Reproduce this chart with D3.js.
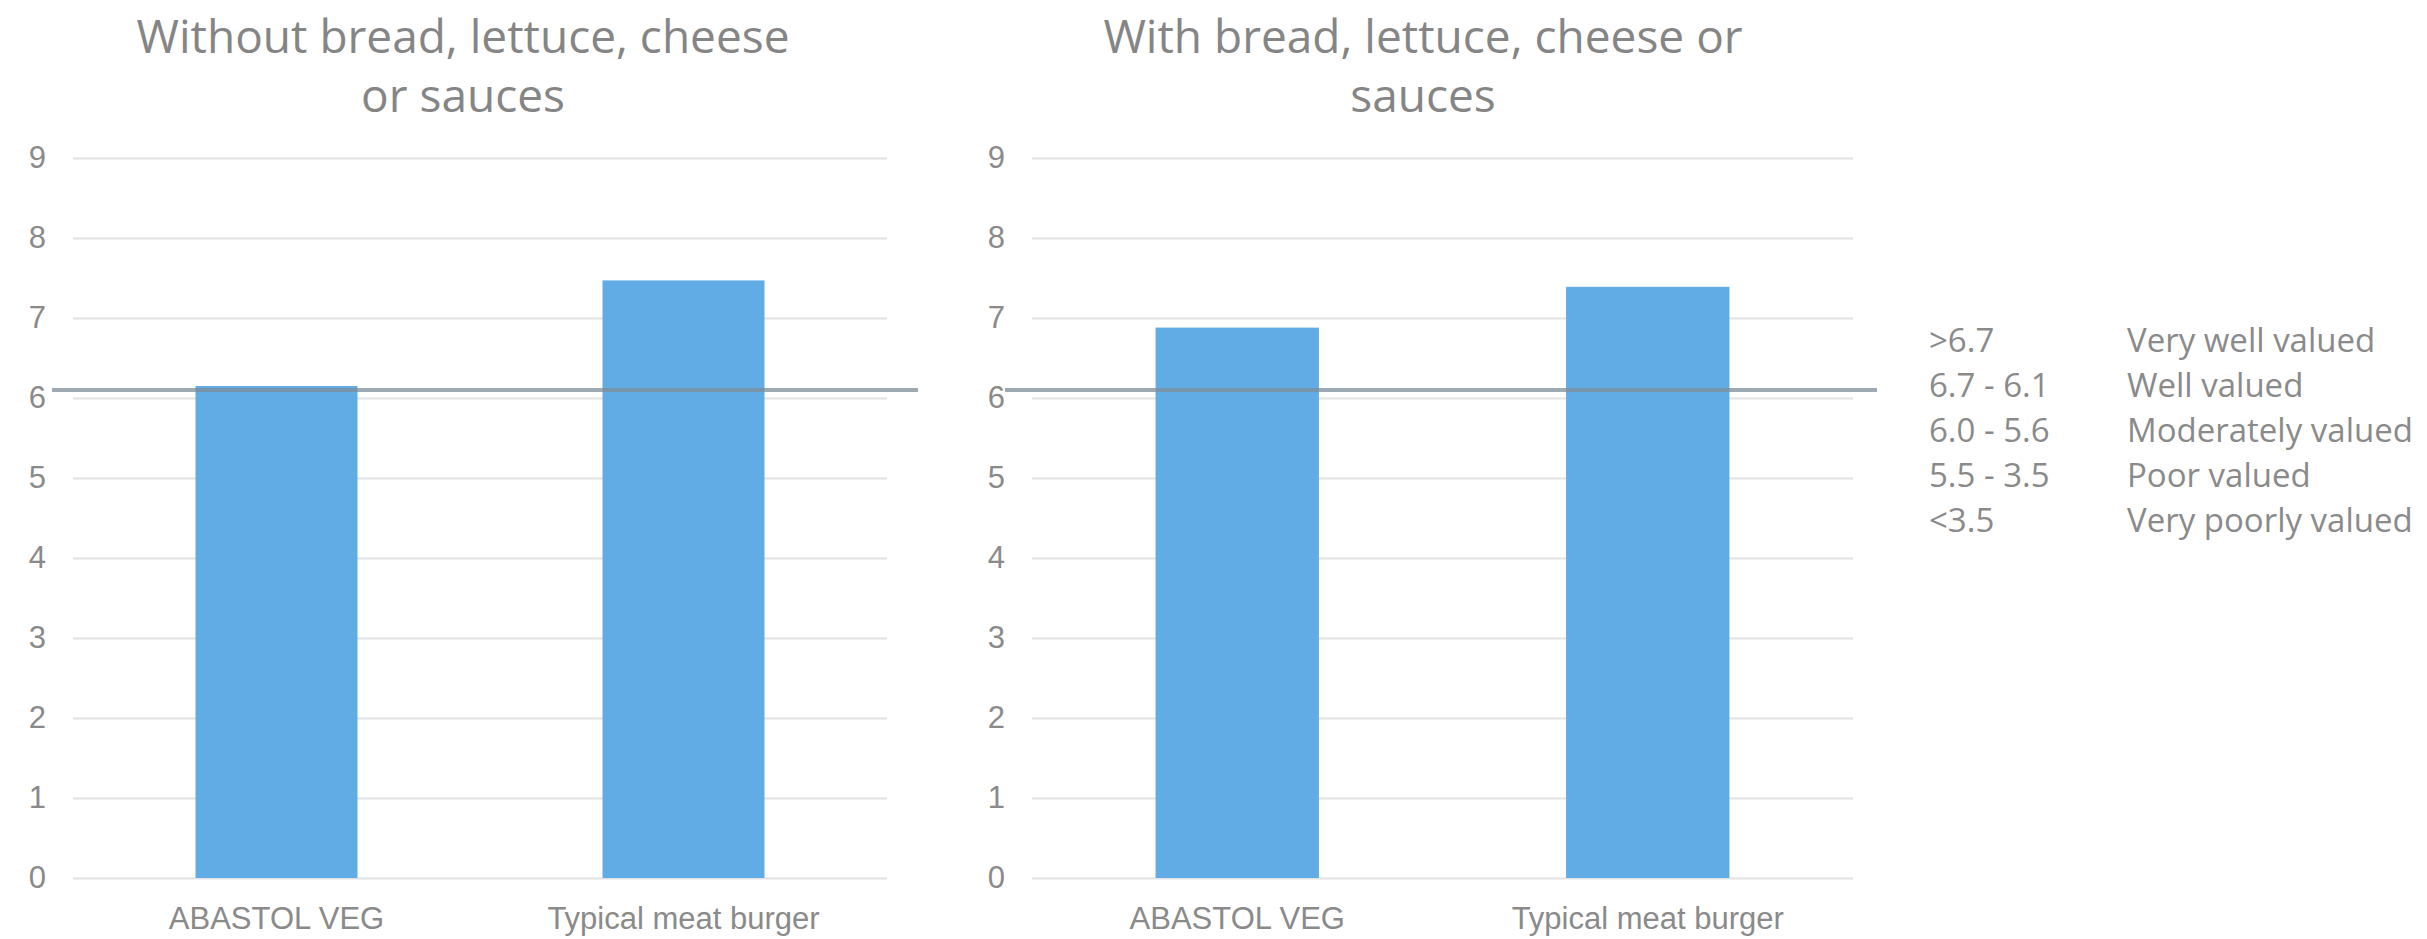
<!DOCTYPE html>
<html>
<head>
<meta charset="utf-8">
<script src="https://cdn.jsdelivr.net/npm/d3@7"></script>
<style>
  html, body { margin: 0; padding: 0; background: #ffffff; }
  svg { display: block; font-family: "Open Sans", "Noto Sans", sans-serif; }
</style>
</head>
<body>
<svg id="chart" width="2427" height="939"></svg>
<script>
// ---------- data ----------
const categories = ["ABASTOL VEG", "Typical meat burger"];
const withoutValues = [6.15, 7.47];
const withValues = [6.88, 7.39];
const threshold = 6.1;
const yTicks = [0, 1, 2, 3, 4, 5, 6, 7, 8, 9];
const titleWithout = ["Without bread, lettuce, cheese", "or sauces"];
const titleWith = ["With bread, lettuce, cheese or", "sauces"];
const legendRanges = [">6.7", "6.7 - 6.1", "6.0 - 5.6", "5.5 - 3.5", "<3.5"];
const legendLabels = ["Very well valued", "Well valued", "Moderately valued", "Poor valued", "Very poorly valued"];

// ---------- styles ----------
const barColor = "#62ace6";
const gridColor = "#e2e2e2";
const textColor = "#8a8a8a";
const lineColor = "#7d8e99";

const svg = d3.select("#chart");

const panels = [
  { title: titleWithout, values: withoutValues, x0: 73, x1: 887, titleX: 463, lineL: 21, lineR: 31 },
  { title: titleWith, values: withValues, x0: 1032, x1: 1853, titleX: 1423, lineL: 27, lineR: 24 }
];

const yTop = 158, yBottom = 878;
const y = d3.scaleLinear().domain([0, 9]).range([yBottom, yTop]);

panels.forEach(p => {
  const g = svg.append("g");
  const x = d3.scaleBand()
    .domain(categories)
    .range([p.x0, p.x1])
    .paddingInner(0.602)
    .paddingOuter(0.301);

  // gridlines + y tick labels
  const yAxis = d3.axisLeft(y)
    .tickValues(yTicks)
    .tickFormat(d3.format("d"))
    .tickSize(-(p.x1 - p.x0))
    .tickPadding(27);
  const ya = g.append("g").attr("transform", `translate(${p.x0},0)`).call(yAxis);
  ya.select(".domain").remove();
  ya.selectAll(".tick line").attr("stroke", gridColor).attr("stroke-width", 2);
  ya.selectAll(".tick text")
    .attr("fill", textColor)
    .style("font-size", "31px");

  // bars
  g.selectAll("rect.bar")
    .data(p.values)
    .join("rect")
    .attr("class", "bar")
    .attr("x", (d, i) => x(categories[i]))
    .attr("width", x.bandwidth())
    .attr("y", d => y(d))
    .attr("height", d => y(0) - y(d))
    .attr("fill", barColor);

  // x axis labels
  const xAxis = d3.axisBottom(x).tickSize(0).tickPadding(29);
  const xa = g.append("g").attr("transform", `translate(0,${yBottom})`).call(xAxis);
  xa.select(".domain").remove();
  xa.selectAll(".tick text")
    .attr("fill", textColor)
    .style("font-size", "31px");

  // threshold line
  g.append("line")
    .attr("x1", p.x0 - p.lineL)
    .attr("x2", p.x1 + p.lineR)
    .attr("y1", y(threshold))
    .attr("y2", y(threshold))
    .attr("stroke", lineColor)
    .attr("stroke-opacity", 0.75)
    .attr("stroke-width", 4);

  // title
  const t = g.append("text")
    .attr("text-anchor", "middle")
    .attr("fill", "#858585")
    .style("font-size", "46px");
  p.title.forEach((line, i) => {
    t.append("tspan")
      .attr("x", p.titleX)
      .attr("y", 53 + i * 59)
      .text(line);
  });
});

// legend
const legend = svg.append("g").attr("fill", textColor).style("font-size", "33px");
const rowY = d3.scaleLinear().domain([0, legendRanges.length - 1]).range([352, 532]);
legend.selectAll("text.range")
  .data(legendRanges)
  .join("text")
  .attr("class", "range")
  .attr("x", 1929)
  .attr("y", (d, i) => rowY(i))
  .text(d => d);
legend.selectAll("text.label")
  .data(legendLabels)
  .join("text")
  .attr("class", "label")
  .attr("x", 2127)
  .attr("y", (d, i) => rowY(i))
  .text(d => d);
</script>
</body>
</html>
